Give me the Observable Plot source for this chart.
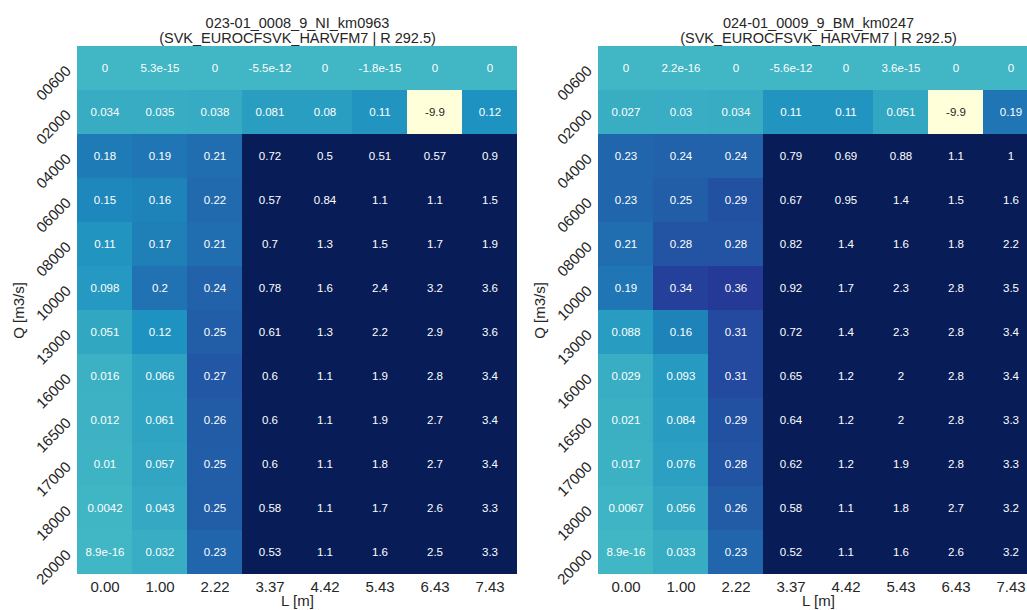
<!DOCTYPE html>
<html>
<head>
<meta charset="utf-8">
<script src="https://cdn.jsdelivr.net/npm/d3@7"></script>
<script src="https://cdn.jsdelivr.net/npm/@observablehq/plot@0.6"></script>
<style>
  html, body { margin: 0; padding: 0; overflow: hidden; background: #fff; }
  #figure { display: flex; width: 1049px; height: 610px; }
  #figure svg { display: block; }
</style>
</head>
<body>
<div id="figure"></div>
<script>
// Discharge classes (rows, top to bottom) and L classes (columns)
const qLabels = ["00600", "02000", "04000", "06000", "08000", "10000",
                 "13000", "16000", "16500", "17000", "18000", "20000"];
const lLabels = ["0.00", "1.00", "2.22", "3.37", "4.42", "5.43", "6.43", "7.43"];

// Panel titles
const titleLeft = "023-01_0008_9_NI_km0963\n(SVK_EUROCFSVK_HARVFM7 | R 292.5)";
const titleRight = "024-01_0009_9_BM_km0247\n(SVK_EUROCFSVK_HARVFM7 | R 292.5)";

// Values, one row per discharge class
const valuesLeft = [
  [0, 5.3e-15, 0, -5.5e-12, 0, -1.8e-15, 0, 0],
  [0.034, 0.035, 0.038, 0.081, 0.08, 0.11, -9.9, 0.12],
  [0.18, 0.19, 0.21, 0.72, 0.5, 0.51, 0.57, 0.9],
  [0.15, 0.16, 0.22, 0.57, 0.84, 1.1, 1.1, 1.5],
  [0.11, 0.17, 0.21, 0.7, 1.3, 1.5, 1.7, 1.9],
  [0.098, 0.2, 0.24, 0.78, 1.6, 2.4, 3.2, 3.6],
  [0.051, 0.12, 0.25, 0.61, 1.3, 2.2, 2.9, 3.6],
  [0.016, 0.066, 0.27, 0.6, 1.1, 1.9, 2.8, 3.4],
  [0.012, 0.061, 0.26, 0.6, 1.1, 1.9, 2.7, 3.4],
  [0.01, 0.057, 0.25, 0.6, 1.1, 1.8, 2.7, 3.4],
  [0.0042, 0.043, 0.25, 0.58, 1.1, 1.7, 2.6, 3.3],
  [8.9e-16, 0.032, 0.23, 0.53, 1.1, 1.6, 2.5, 3.3]
];
const valuesRight = [
  [0, 2.2e-16, 0, -5.6e-12, 0, 3.6e-15, 0, 0],
  [0.027, 0.03, 0.034, 0.11, 0.11, 0.051, -9.9, 0.19],
  [0.23, 0.24, 0.24, 0.79, 0.69, 0.88, 1.1, 1],
  [0.23, 0.25, 0.29, 0.67, 0.95, 1.4, 1.5, 1.6],
  [0.21, 0.28, 0.28, 0.82, 1.4, 1.6, 1.8, 2.2],
  [0.19, 0.34, 0.36, 0.92, 1.7, 2.3, 2.8, 3.5],
  [0.088, 0.16, 0.31, 0.72, 1.4, 2.3, 2.8, 3.4],
  [0.029, 0.093, 0.31, 0.65, 1.2, 2, 2.8, 3.4],
  [0.021, 0.084, 0.29, 0.64, 1.2, 2, 2.8, 3.3],
  [0.017, 0.076, 0.28, 0.62, 1.2, 1.9, 2.8, 3.3],
  [0.0067, 0.056, 0.26, 0.58, 1.1, 1.8, 2.7, 3.2],
  [8.9e-16, 0.033, 0.23, 0.52, 1.1, 1.6, 2.6, 3.2]
];

// YlGnBu colour ramp, centred on zero and saturating at ±0.5
const ramp = ["#ffffd9", "#edf8b1", "#c7e9b4", "#7fcdbb", "#41b6c4",
              "#1d91c0", "#225ea8", "#253494", "#081d58"];
const stops = ramp.map((_, i) => -0.5 + i * 0.125);
const colorOf = d3.scaleLinear().domain(stops).range(ramp)
  .interpolate(d3.interpolateRgb).clamp(true);

// Relative luminance, to pick dark or light annotation text
function luminance(c) {
  const { r, g, b } = d3.rgb(c);
  const lin = (u) => { u /= 255; return u <= 0.03928 ? u / 12.92 : Math.pow((u + 0.055) / 1.055, 2.4); };
  return 0.2126 * lin(r) + 0.7152 * lin(g) + 0.0722 * lin(b);
}
const isLight = (v) => luminance(colorOf(v)) > 0.408;

// Two significant digits, general format
function fmt(v) {
  if (v === 0) return "0";
  const e = Math.floor(Math.log10(Math.abs(v)));
  if (e < -4 || e >= 2) {
    let [m, ex] = v.toExponential(1).split("e");
    m = m.replace(/\.0$/, "");
    const sign = ex[0] === "-" ? "-" : "+";
    return m + "e" + sign + ex.replace(/^[+-]/, "").padStart(2, "0");
  }
  return String(parseFloat(v.toPrecision(2)));
}

function table(values) {
  const rows = [];
  values.forEach((row, i) => row.forEach((v, j) => rows.push({ Q: qLabels[i], L: lLabels[j], v })));
  return rows;
}

const font = "'Liberation Sans', Arial, Helvetica, sans-serif";

function heatmap(values, title, marginLeft, width) {
  const data = table(values);
  return Plot.plot({
    width,
    height: 610,
    marginTop: 46,
    marginBottom: 36,
    marginLeft,
    marginRight: 10,
    style: { fontFamily: font, fontSize: "15px", color: "#262626", background: "#fff" },
    x: { type: "band", domain: lLabels, padding: 0 },
    y: { type: "band", domain: qLabels, padding: 0 },
    color: { type: "linear", domain: stops, range: ramp, interpolate: "rgb", clamp: true },
    marks: [
      Plot.cell(data, { x: "L", y: "Q", fill: "v", inset: 0 }),
      Plot.text(data, { filter: (d) => !isLight(d.v), x: "L", y: "Q", text: (d) => fmt(d.v), fill: "#ffffff", fontSize: 11.5 }),
      Plot.text(data, { filter: (d) => isLight(d.v), x: "L", y: "Q", text: (d) => fmt(d.v), fill: "#262626", fontSize: 11.5 }),
      Plot.axisX({ tickSize: 0, tickPadding: 7, fontSize: 15, label: "L [m]", labelAnchor: "center", labelArrow: "none", labelOffset: 31 }),
      Plot.axisY({ tickSize: 0, tickPadding: 8, tickRotate: -45, fontSize: 15, label: "Q [m3/s]", labelAnchor: "center", labelArrow: "none", labelOffset: 63 }),
      Plot.text([title], { frameAnchor: "top", lineAnchor: "bottom", dy: -4, lineHeight: 0.98, fontSize: 14.5, fill: "#262626" })
    ]
  });
}

const fig = document.getElementById("figure");
fig.append(heatmap(valuesLeft, titleLeft, 76, 528));
fig.append(heatmap(valuesRight, titleRight, 69, 521));
</script>
</body>
</html>
